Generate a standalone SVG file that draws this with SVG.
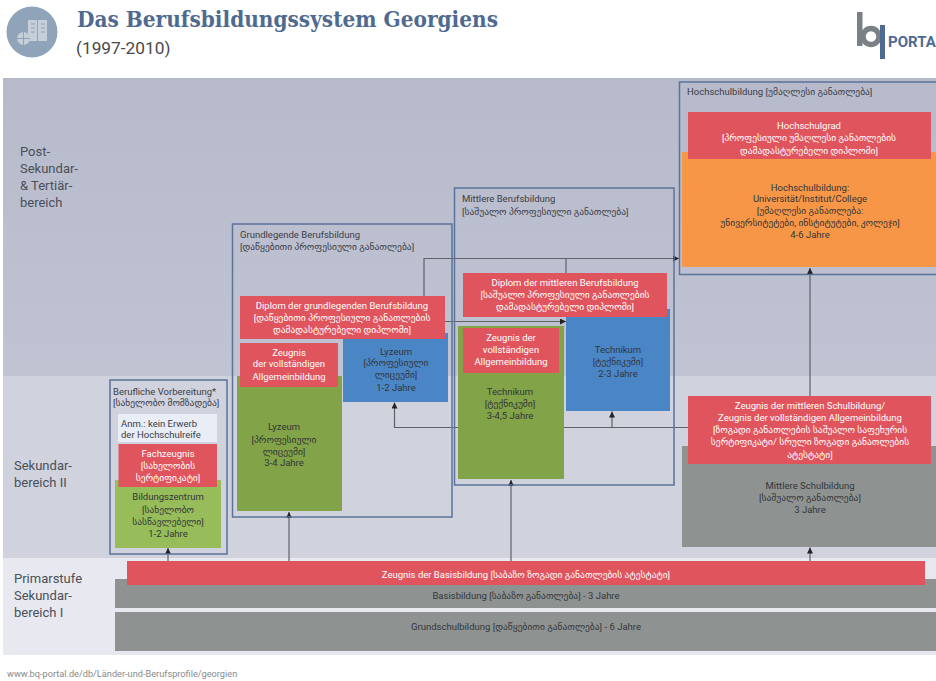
<svg xmlns="http://www.w3.org/2000/svg" width="936" height="681" viewBox="0 0 936 681">
<style>
text{font-family:"Roboto","DejaVu Sans",sans-serif;font-size:9.5px;fill:#3a3d45}
.c{text-anchor:middle}
.w{fill:#fff}
.d{fill:#33363a}
.lab{font-size:13px;fill:#4a4f58}
.box{fill:none;stroke:#5b7399;stroke-width:1.5}
.red{fill:#e0555d}
.gd{fill:#82a347}
.gl{fill:#97bd5a}
.bl{fill:#4a86c6}
.gr{fill:#8e9392}
.or{fill:#f79646}
.con{fill:none;stroke:#5f6266;stroke-width:1.2}
</style>
<defs>
<marker id="a" markerUnits="userSpaceOnUse" markerWidth="8" markerHeight="7" refX="6" refY="3" orient="auto"><path d="M0 0L6 3L0 6Z" fill="#222"/></marker>
<linearGradient id="top" x1="0" y1="0" x2="0" y2="1"><stop offset="0" stop-color="#b7bacb"/><stop offset="1" stop-color="#c0c3d2"/></linearGradient>
</defs>
<rect width="936" height="681" fill="#fff"/>
<g id="header">
<circle cx="32" cy="32" r="25.500" fill="#8fa3b9"/>
<path d="M28 20h9v21h-9zM38 20h9v21h-9z" fill="#c4cfda"/>
<path d="M31 24h4M31 28h4M31 32h4M41 24h4M41 28h4M41 32h4" stroke="#8fa3b9" stroke-width="1"/>
<circle cx="23.500" cy="38.500" r="6.500" fill="#c4cfda"/>
<path d="M17 38.500h13M23.500 32v13" stroke="#8fa3b9" stroke-width="1"/>
<text x="77" y="27" textLength="421" lengthAdjust="spacingAndGlyphs" style="font-family:'DejaVu Serif',serif;font-size:22px;font-weight:700;fill:#4f6a90">Das Berufsbildungssystem Georgiens</text>
<text x="76" y="54" style="font-family:'Roboto',sans-serif;font-size:17.300px;fill:#4a4a4a">(1997-2010)</text>
</g>
<g id="logo">
<path d="M857 12h5.500v34H857z" fill="#7b8086"/>
<circle cx="871" cy="36.500" r="8" fill="none" stroke="#7b8086" stroke-width="5.500"/>
<path d="M880 25h5v34h-5z" fill="#4f6a90"/>
<text x="888" y="47" style="font-family:'Roboto',sans-serif;font-size:15px;font-weight:700;fill:#4f6a90">PORTA</text>
</g>
<g id="bands">
<rect x="3" y="78" width="933" height="298" fill="url(#top)"/>
<rect x="3" y="376" width="933" height="182" fill="#d0d2de"/>
<rect x="3" y="558" width="933" height="97" fill="#e8e9f0"/>
<text class="lab"><tspan x="20" y="156">Post-</tspan><tspan x="20" y="173">Sekundar-</tspan><tspan x="20" y="190">&amp; Tertiär-</tspan><tspan x="20" y="207">bereich</tspan></text>
<text class="lab"><tspan x="14" y="470">Sekundar-</tspan><tspan x="14" y="487">bereich II</tspan></text>
<text class="lab"><tspan x="14" y="583">Primarstufe</tspan><tspan x="14" y="600">Sekundar-</tspan><tspan x="14" y="617">bereich I</tspan></text>
</g>
<g id="connectors">
<path class="con" d="M168 561V548" marker-end="url(#a)"/>
<path class="con" d="M289 561V512" marker-end="url(#a)"/>
<path class="con" d="M511 561V480" marker-end="url(#a)"/>
<path class="con" d="M810 561V547.500" marker-end="url(#a)"/>
<path class="con" d="M810 396V268" marker-end="url(#a)"/>
<path class="con" d="M688 427.500H394.500V402.500" marker-end="url(#a)"/>
<path class="con" d="M612 427.500V411.500" marker-end="url(#a)"/>
<path class="con" d="M424 296V258.500H679" marker-end="url(#a)"/>
<path class="con" d="M566 273V258.500"/>
<path class="con" d="M445 321.500H566" marker-end="url(#a)"/>
</g>
<g id="hochschule">
<rect class="box" x="679.500" y="82" width="265" height="192.500"/>
<text x="687" y="95">Hochschulbildung [უმაღლესი განათლება]</text>
<rect class="or" x="682" y="152" width="254" height="115"/>
<rect class="red" x="688" y="112" width="243" height="47"/>
<text class="c w"><tspan x="809" y="129">Hochschulgrad</tspan><tspan x="809" y="141">[პროფესიული უმაღლესი განათლების</tspan><tspan x="809" y="154">დამადასტურებელი დიპლომი]</tspan></text>
<text class="c d"><tspan x="810" y="191">Hochschulbildung:</tspan><tspan x="810" y="202">Universität/Institut/College</tspan><tspan x="810" y="214">[უმაღლესი განათლება:</tspan><tspan x="810" y="226">უნივერსიტეტები, ინსტიტუტები, კოლეჯი]</tspan><tspan x="810" y="238">4-6 Jahre</tspan></text>
</g>
<g id="vorbereitung">
<rect class="box" x="110" y="380" width="117" height="174"/>
<text><tspan x="113" y="395">Berufliche Vorbereitung*</tspan><tspan x="113" y="406">[სახელობო მომზადება]</tspan></text>
<rect x="118" y="414" width="99" height="28" fill="#e8edf6"/>
<text><tspan x="121" y="427">Anm.: kein Erwerb</tspan><tspan x="121" y="438">der Hochschulreife</tspan></text>
<rect class="gl" x="115" y="480" width="106" height="68"/>
<rect class="red" x="118.500" y="444" width="98.500" height="43"/>
<text class="c w"><tspan x="168" y="457">Fachzeugnis</tspan><tspan x="168" y="469">[სახელობის</tspan><tspan x="168" y="481">სერტიფიკატი]</tspan></text>
<text class="c d"><tspan x="168" y="500">Bildungszentrum</tspan><tspan x="168" y="513">[სახელობო</tspan><tspan x="168" y="525">სასწავლებელი]</tspan><tspan x="168" y="537">1-2 Jahre</tspan></text>
</g>
<g id="grundlegende">
<rect class="box" x="232.500" y="224" width="219.500" height="293"/>
<text><tspan x="240" y="238">Grundlegende Berufsbildung</tspan><tspan x="240" y="250">[დაწყებითი პროფესიული განათლება]</tspan></text>
<rect class="gd" x="237" y="376" width="105" height="135"/>
<rect class="bl" x="343" y="333" width="105" height="69"/>
<rect class="red" x="240" y="296" width="205" height="43"/>
<text class="c w"><tspan x="342" y="309">Diplom der grundlegenden Berufsbildung</tspan><tspan x="342" y="321">[დაწყებითი პროფესიული განათლების</tspan><tspan x="342" y="333">დამადასტურებელი დიპლომი]</tspan></text>
<rect class="red" x="240" y="343" width="98" height="44"/>
<text class="c w"><tspan x="289" y="356">Zeugnis</tspan><tspan x="289" y="367">der vollständigen</tspan><tspan x="289" y="380">Allgemeinbildung</tspan></text>
<text class="c d"><tspan x="284" y="430">Lyzeum</tspan><tspan x="284" y="443">[პროფესიული</tspan><tspan x="284" y="455">ლიცეუმი]</tspan><tspan x="284" y="466">3-4 Jahre</tspan></text>
<text class="c d"><tspan x="396" y="355">Lyzeum</tspan><tspan x="396" y="366">[პროფესიული</tspan><tspan x="396" y="378">ლიცეუმი]</tspan><tspan x="396" y="391">1-2 Jahre</tspan></text>
</g>
<g id="mittlere">
<rect class="box" x="454.500" y="188" width="219.500" height="297"/>
<text><tspan x="462" y="202">Mittlere Berufsbildung</tspan><tspan x="462" y="215">[საშუალო პროფესიული განათლება]</tspan></text>
<rect class="gd" x="458" y="326" width="106" height="153"/>
<rect class="bl" x="566" y="309" width="104" height="102"/>
<rect class="red" x="463" y="273" width="204" height="44"/>
<text class="c w"><tspan x="565" y="286">Diplom der mittleren Berufsbildung</tspan><tspan x="565" y="298">[საშუალო პროფესიული განათლების</tspan><tspan x="565" y="310">დამადასტურებელი დიპლომი]</tspan></text>
<rect class="red" x="463" y="328" width="96" height="45"/>
<text class="c w"><tspan x="511" y="341">Zeugnis der</tspan><tspan x="511" y="353">vollständigen</tspan><tspan x="511" y="365">Allgemeinbildung</tspan></text>
<text class="c d"><tspan x="510" y="395">Technikum</tspan><tspan x="510" y="407">[ტექნიკუმი]</tspan><tspan x="510" y="419">3-4,5 Jahre</tspan></text>
<text class="c d"><tspan x="618" y="353">Technikum</tspan><tspan x="618" y="365">[ტექნიკუმი]</tspan><tspan x="618" y="377">2-3 Jahre</tspan></text>
</g>
<g id="mittlere-schule">
<rect class="gr" x="682" y="446" width="254" height="101"/>
<rect class="red" x="688" y="396" width="243" height="68"/>
<text class="c w"><tspan x="810" y="409">Zeugnis der mittleren Schulbildung/</tspan><tspan x="810" y="421">Zeugnis der vollständigen Allgemeinbildung</tspan><tspan x="810" y="433">[ზოგადი განათლების საშუალო საფეხურის</tspan><tspan x="810" y="445">სერტიფიკატი/ სრული ზოგადი განათლების</tspan><tspan x="810" y="458">ატესტატი]</tspan></text>
<text class="c d"><tspan x="810" y="489">Mittlere Schulbildung</tspan><tspan x="810" y="501">[საშუალო განათლება]</tspan><tspan x="810" y="513">3 Jahre</tspan></text>
</g>
<g id="basis">
<rect class="gr" x="115" y="579" width="821" height="29"/>
<rect class="gr" x="115" y="612" width="821" height="39"/>
<rect class="red" x="127" y="561" width="798" height="24"/>
<text class="c w" x="526" y="578">Zeugnis der Basisbildung [საბაზო ზოგადი განათლების ატესტატი]</text>
<text class="c d" x="526" y="599">Basisbildung [საბაზო განათლება] - 3 Jahre</text>
<text class="c d" x="526" y="630">Grundschulbildung [დაწყებითი განათლება] - 6 Jahre</text>
</g>
<text id="source" x="7" y="677" style="font-size:9.200px;fill:#8a8a8a">www.bq-portal.de/db/Länder-und-Berufsprofile/georgien</text>
</svg>
